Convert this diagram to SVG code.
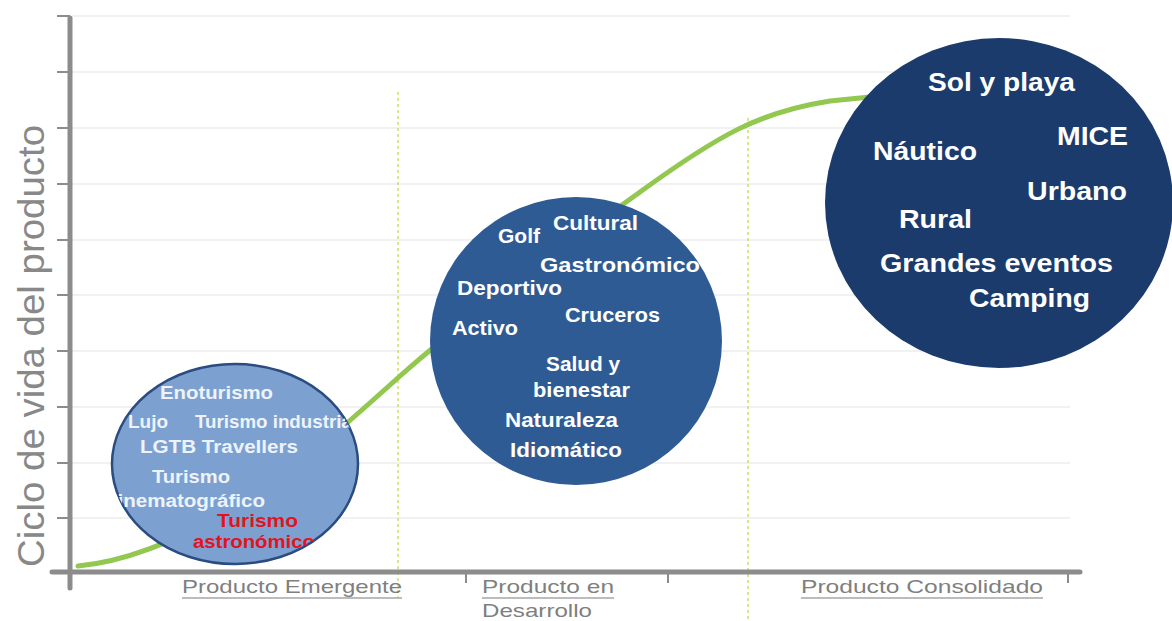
<svg xmlns="http://www.w3.org/2000/svg" width="1172" height="621" viewBox="0 0 1172 621">
  <defs>
    <style>
      .grid { stroke: #ededed; stroke-width: 1.5; }
      .axis { stroke: #8c8c8c; stroke-width: 5; stroke-linecap: round; fill: none; }
      .tick { stroke: #8c8c8c; stroke-width: 2; }
      .phase { stroke: #cfdc6e; stroke-width: 1.5; stroke-dasharray: 3 3; }
      .curve { stroke: #92c850; stroke-width: 5; fill: none; stroke-linecap: round; }
      .lbl { font-family: "Liberation Sans", Arial, sans-serif; font-weight: bold; fill: #ffffff; }
      .s1 { font-size: 18px; fill: #eef3fa; }
      .s2 { font-size: 20.5px; }
      .s3 { font-size: 26px; }
      .red { fill: #e2131f; }
      .axlbl { font-family: "Liberation Sans", Arial, sans-serif; font-size: 19px; fill: #7f7f7f; }
      .ul { stroke: #a6a6a6; stroke-width: 1.5; }
    </style>
    <clipPath id="clipE1">
      <ellipse cx="235" cy="464" rx="123" ry="100"/>
    </clipPath>
  </defs>
  <rect x="0" y="0" width="1172" height="621" fill="#ffffff"/>

  <g id="grid">
    <line class="grid" x1="72" y1="16" x2="1070" y2="16"/>
    <line class="grid" x1="72" y1="72" x2="1070" y2="72"/>
    <line class="grid" x1="72" y1="128" x2="1070" y2="128"/>
    <line class="grid" x1="72" y1="184" x2="1070" y2="184"/>
    <line class="grid" x1="72" y1="240" x2="1070" y2="240"/>
    <line class="grid" x1="72" y1="295" x2="1070" y2="295"/>
    <line class="grid" x1="72" y1="351" x2="1070" y2="351"/>
    <line class="grid" x1="72" y1="407" x2="1070" y2="407"/>
    <line class="grid" x1="72" y1="463" x2="1070" y2="463"/>
    <line class="grid" x1="72" y1="518" x2="1070" y2="518"/>
  </g>

  <g id="phase-lines">
    <line class="phase" x1="398" y1="92" x2="398" y2="598"/>
    <line class="phase" x1="748" y1="118" x2="748" y2="621"/>
  </g>

  <g id="axes">
    <line class="axis" x1="70" y1="18" x2="70" y2="588"/>
    <line class="axis" x1="52" y1="572" x2="1080" y2="572"/>
    <line class="tick" x1="57" y1="16" x2="70" y2="16"/>
    <line class="tick" x1="57" y1="72" x2="70" y2="72"/>
    <line class="tick" x1="57" y1="128" x2="70" y2="128"/>
    <line class="tick" x1="57" y1="184" x2="70" y2="184"/>
    <line class="tick" x1="57" y1="240" x2="70" y2="240"/>
    <line class="tick" x1="57" y1="295" x2="70" y2="295"/>
    <line class="tick" x1="57" y1="351" x2="70" y2="351"/>
    <line class="tick" x1="57" y1="407" x2="70" y2="407"/>
    <line class="tick" x1="57" y1="463" x2="70" y2="463"/>
    <line class="tick" x1="57" y1="518" x2="70" y2="518"/>
    <line class="tick" x1="466" y1="572" x2="466" y2="583"/>
    <line class="tick" x1="668" y1="572" x2="668" y2="583"/>
    <line class="tick" x1="1068" y1="572" x2="1068" y2="583"/>
    <text class="axlbl" transform="translate(44,567) rotate(-90)" x="0" y="0" style="font-size:36px;fill:#888888" textLength="442" lengthAdjust="spacingAndGlyphs">Ciclo de vida del producto</text>
  </g>

  <g id="connectors">
    <path class="curve" d="M78,566 C120,562 170,545 230,510 S340,430 400,376 S560,250 640,192 S760,112 830,101 L870,97"/>
  </g>

  <g id="node-emergente">
    <ellipse cx="235" cy="464" rx="123" ry="100" fill="#7ca1d1" stroke="#2b4c80" stroke-width="2.5"/>
    <g clip-path="url(#clipE1)">
      <text class="lbl s1" x="160" y="399" textLength="113" lengthAdjust="spacingAndGlyphs">Enoturismo</text>
      <text class="lbl s1" x="128" y="428" textLength="40" lengthAdjust="spacingAndGlyphs">Lujo</text>
      <text class="lbl s1" x="195" y="428" textLength="162" lengthAdjust="spacingAndGlyphs">Turismo industrial</text>
      <text class="lbl s1" x="140" y="453" textLength="158" lengthAdjust="spacingAndGlyphs">LGTB Travellers</text>
      <text class="lbl s1" x="152" y="483" textLength="78" lengthAdjust="spacingAndGlyphs">Turismo</text>
      <text class="lbl s1" x="106" y="507" textLength="159" lengthAdjust="spacingAndGlyphs">cinematográfico</text>
      <text class="lbl s1 red" x="217" y="527" textLength="81" lengthAdjust="spacingAndGlyphs">Turismo</text>
      <text class="lbl s1 red" x="193" y="548" textLength="122" lengthAdjust="spacingAndGlyphs">astronómico</text>
    </g>
  </g>

  <g id="node-desarrollo">
    <ellipse cx="576" cy="341" rx="146" ry="144" fill="#2f5b94"/>
    <text class="lbl s2" x="498" y="243" textLength="42" lengthAdjust="spacingAndGlyphs">Golf</text>
    <text class="lbl s2" x="553" y="230" textLength="85" lengthAdjust="spacingAndGlyphs">Cultural</text>
    <text class="lbl s2" x="540" y="272" textLength="160" lengthAdjust="spacingAndGlyphs">Gastronómico</text>
    <text class="lbl s2" x="457" y="295" textLength="105" lengthAdjust="spacingAndGlyphs">Deportivo</text>
    <text class="lbl s2" x="565" y="322" textLength="95" lengthAdjust="spacingAndGlyphs">Cruceros</text>
    <text class="lbl s2" x="452" y="335" textLength="66" lengthAdjust="spacingAndGlyphs">Activo</text>
    <text class="lbl s2" x="546" y="371" textLength="74" lengthAdjust="spacingAndGlyphs">Salud y</text>
    <text class="lbl s2" x="533" y="397" textLength="97" lengthAdjust="spacingAndGlyphs">bienestar</text>
    <text class="lbl s2" x="505" y="427" textLength="113" lengthAdjust="spacingAndGlyphs">Naturaleza</text>
    <text class="lbl s2" x="510" y="457" textLength="112" lengthAdjust="spacingAndGlyphs">Idiomático</text>
  </g>

  <g id="node-consolidado">
    <ellipse cx="999" cy="203" rx="174" ry="165" fill="#1c3b6d"/>
    <text class="lbl s3" x="928" y="91" textLength="147" lengthAdjust="spacingAndGlyphs">Sol y playa</text>
    <text class="lbl s3" x="1057" y="145" textLength="71" lengthAdjust="spacingAndGlyphs">MICE</text>
    <text class="lbl s3" x="873" y="160" textLength="104" lengthAdjust="spacingAndGlyphs">Náutico</text>
    <text class="lbl s3" x="1027" y="200" textLength="100" lengthAdjust="spacingAndGlyphs">Urbano</text>
    <text class="lbl s3" x="899" y="228" textLength="73" lengthAdjust="spacingAndGlyphs">Rural</text>
    <text class="lbl s3" x="880" y="272" textLength="233" lengthAdjust="spacingAndGlyphs">Grandes eventos</text>
    <text class="lbl s3" x="969" y="307" textLength="121" lengthAdjust="spacingAndGlyphs">Camping</text>
  </g>

  <g id="phase-labels">
    <text class="axlbl" x="182" y="593" textLength="220" lengthAdjust="spacingAndGlyphs">Producto Emergente</text>
    <line class="ul" x1="182" y1="598" x2="402" y2="598"/>
    <text class="axlbl" x="482" y="593" textLength="132" lengthAdjust="spacingAndGlyphs">Producto en</text>
    <line class="ul" x1="482" y1="598" x2="614" y2="598"/>
    <text class="axlbl" x="482" y="617" textLength="110" lengthAdjust="spacingAndGlyphs">Desarrollo</text>
    <text class="axlbl" x="801" y="593" textLength="242" lengthAdjust="spacingAndGlyphs">Producto Consolidado</text>
    <line class="ul" x1="801" y1="598" x2="1043" y2="598"/>
  </g>
</svg>
